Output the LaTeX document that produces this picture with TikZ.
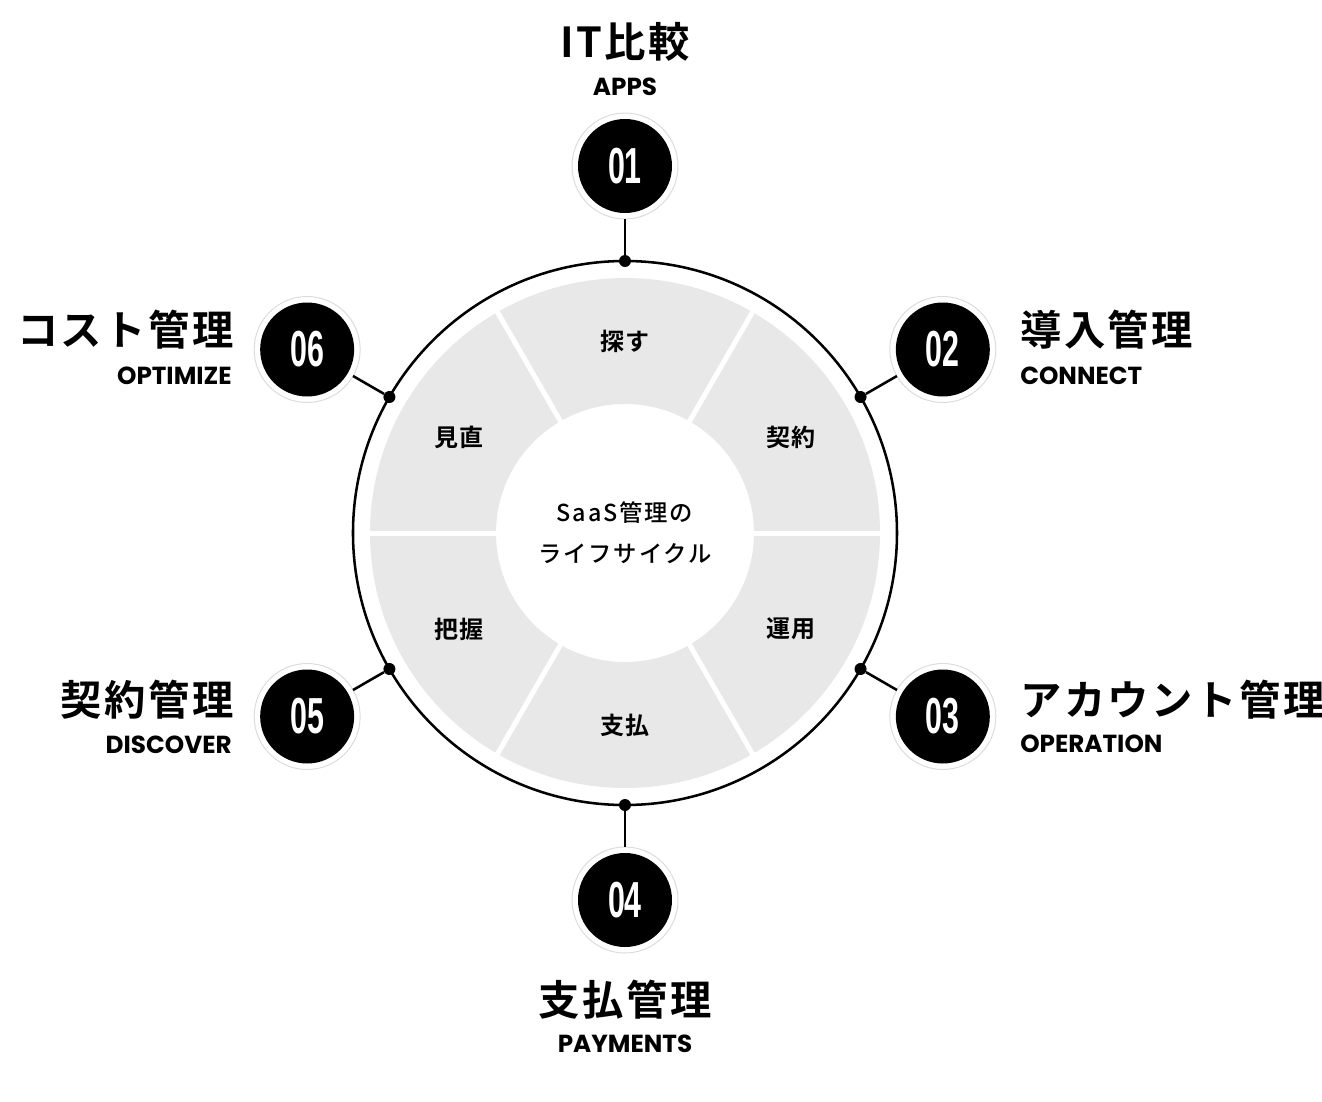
\documentclass[tikz,border=0pt]{standalone}
\usepackage{fontspec}
\usepackage{graphicx}
\setmainfont{Poppins}
\newfontfamily\jpfont{Noto Sans CJK JP}[BoldFont={Noto Sans CJK JP Bold}]
\newfontfamily\jpmed{Noto Sans CJK JP Medium}
\newfontfamily\enfont{Poppins}
\newfontfamily\numfont{Liberation Sans}
\definecolor{ringgray}{HTML}{E8E8E8}
\definecolor{edgegray}{HTML}{DCDCDC}

\begin{document}
\begin{tikzpicture}[x=0.75pt,y=0.75pt,
  numdot/.style={circle,fill=black,text=white,minimum size=70.5pt,inner sep=0pt,outer sep=4.5pt,
    font=\numfont\bfseries\fontsize{38}{40}\selectfont},
  dotmark/.style={circle,fill=black,minimum size=9pt,inner sep=0pt},
  wire/.style={line width=1.9pt},
  ringline/.style={edgegray,line width=0.75pt},
  title/.style={font=\jpfont\bfseries\fontsize{31}{36}\selectfont\addfontfeature{LetterSpace=6},inner sep=0pt},
  subtitle/.style={font=\enfont\bfseries\fontsize{18.5}{20}\selectfont,inner sep=0pt},
  phase/.style={font=\jpfont\bfseries\fontsize{18}{22}\selectfont\addfontfeature{LetterSpace=5},inner sep=0pt},
  hubtext/.style={font=\jpmed\fontsize{17.5}{31}\selectfont\addfontfeature{LetterSpace=8},align=center,inner sep=0pt}]
\useasboundingbox (-625,-568) rectangle (697,533);

% Gray ring
\fill[ringgray,even odd rule] (0,0) circle[radius=255] (0,0) circle[radius=129];

% Gaps between phases
\foreach \a in {0,60,...,300} {
  \draw[white,line width=3.75pt] (\a:120) -- (\a:262);
}

% Outer circle
\draw[line width=1.9pt] (0,0) circle[radius=272];

% Phases
\foreach \a/\t [count=\i] in {90/探す,30/契約,-30/運用,-90/支払,210/把握,150/見直} {
  \node[phase] (p\i) at (\a:192) {\t};
}

% Center
\node[hubtext] (hub) at (0,0) {SaaS管理の\\ライフサイクル};

% Dots, numbers and wires
\foreach \a/\lbl [count=\i] in {90/01,30/02,-30/03,-90/04,210/05,150/06} {
  \node[dotmark] (d\i) at (\a:272) {};
  \node[numdot] (n\i) at (\a:367) {\scalebox{0.6}[1]{\lbl}};
  \draw[ringline] (n\i.center) circle[radius=53];
  \draw[wire] (d\i) -- (n\i);
}

% Titles
\node[title] (t1) at (0,491) {IT比較};
\node[subtitle] (s1) at (0,446) {APPS};
\node[title,anchor=west] (t2) at (395,203) {導入管理};
\node[subtitle,anchor=west] (s2) at (395,157) {CONNECT};
\node[title,anchor=west] (t3) at (395,-167) {アカウント管理};
\node[subtitle,anchor=west] (s3) at (395,-211) {OPERATION};
\node[title] (t4) at (0,-467) {支払管理};
\node[subtitle] (s4) at (0,-511) {PAYMENTS};
\node[title,anchor=east] (t5) at (-391,-167) {契約管理};
\node[subtitle,anchor=east] (s5) at (-393,-212) {DISCOVER};
\node[title,anchor=east] (t6) at (-391,203) {コスト管理};
\node[subtitle,anchor=east] (s6) at (-393,157) {OPTIMIZE};

\end{tikzpicture}
\end{document}
